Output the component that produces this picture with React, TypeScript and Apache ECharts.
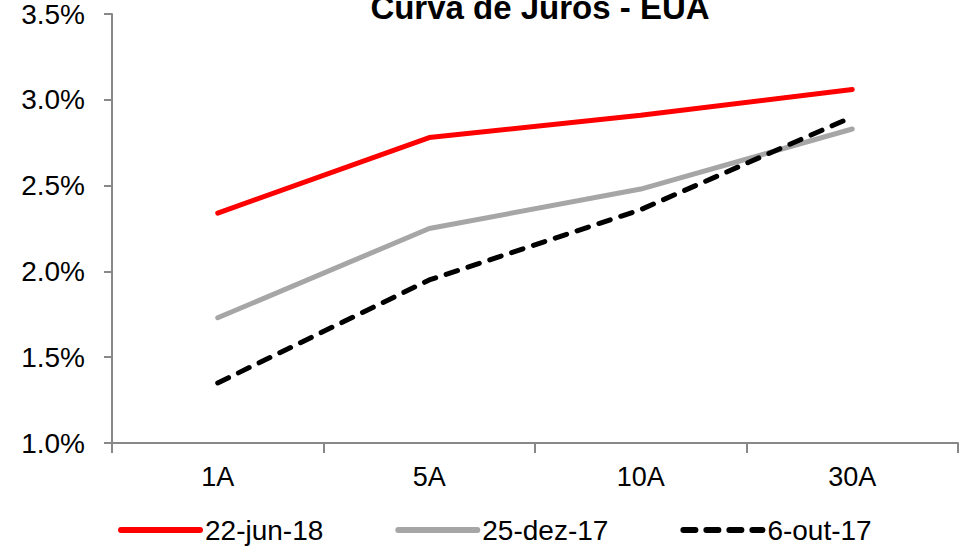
import React, { useEffect, useRef } from "react";
import * as echarts from "echarts";

const categories = ["1A", "5A", "10A", "30A"];
const jun18 = [2.34, 2.78, 2.91, 3.06];
const dez17 = [1.73, 2.25, 2.48, 2.83];
const out17 = [1.35, 1.95, 2.36, 2.9];
const seriesNames = ["22-jun-18", "25-dez-17", "6-out-17"];

const FONT = "'Liberation Sans', Arial, sans-serif";

export default function App() {
  const ref = useRef<HTMLDivElement>(null);
  useEffect(() => {
    if (!ref.current) return;
    const chart = echarts.init(ref.current, undefined, { renderer: "svg" });
    chart.setOption({
      animation: false,
      backgroundColor: "#ffffff",
      title: {
        text: "Curva de Juros - EUA",
        left: 535,
        textAlign: "center",
        top: -14,
        textStyle: { fontFamily: FONT, fontSize: 33, fontWeight: "bold", color: "#000" },
      },
      legend: {
        left: 113,
        top: 511,
        itemWidth: 79,
        itemHeight: 14,
        itemGap: 72,
        itemStyle: { opacity: 0 },
        lineStyle: { width: 6 },
        textStyle: { fontFamily: FONT, fontSize: 28, color: "#000" },
        data: seriesNames,
      },
      grid: { left: 112, right: 16, top: 13, bottom: 104, containLabel: false },
      xAxis: {
        type: "category",
        data: categories,
        boundaryGap: true,
        axisLine: { lineStyle: { color: "#888888", width: 2 } },
        axisTick: { show: true, length: 10, lineStyle: { color: "#888888", width: 2 } },
        axisLabel: { fontFamily: FONT, fontSize: 27, color: "#000", margin: 20 },
        splitLine: { show: false },
      },
      yAxis: {
        type: "value",
        min: 1.0,
        max: 3.5,
        interval: 0.5,
        axisLine: { show: true, lineStyle: { color: "#888888", width: 2 } },
        axisTick: { show: true, length: 8, lineStyle: { color: "#888888", width: 2 } },
        axisLabel: {
          fontFamily: FONT,
          fontSize: 28,
          color: "#000",
          margin: 27,
          formatter: (v: number) => v.toFixed(1) + "%",
        },
        splitLine: { show: false },
      },
      series: [
        {
          name: seriesNames[0],
          type: "line",
          data: jun18,
          symbol: "none",
          lineStyle: { color: "#FF0000", width: 5, cap: "round" },
          itemStyle: { color: "#FF0000" },
        },
        {
          name: seriesNames[1],
          type: "line",
          data: dez17,
          symbol: "none",
          lineStyle: { color: "#A6A6A6", width: 5, cap: "round" },
          itemStyle: { color: "#A6A6A6" },
        },
        {
          name: seriesNames[2],
          type: "line",
          data: out17,
          symbol: "none",
          lineStyle: { color: "#000000", width: 5, type: [12, 11], cap: "round" },
          itemStyle: { color: "#000000" },
        },
      ],
    });
    return () => chart.dispose();
  }, []);
  return (
    <div
      ref={ref}
      style={{ position: "fixed", left: 0, top: 0, width: 974, height: 547 }}
    />
  );
}
